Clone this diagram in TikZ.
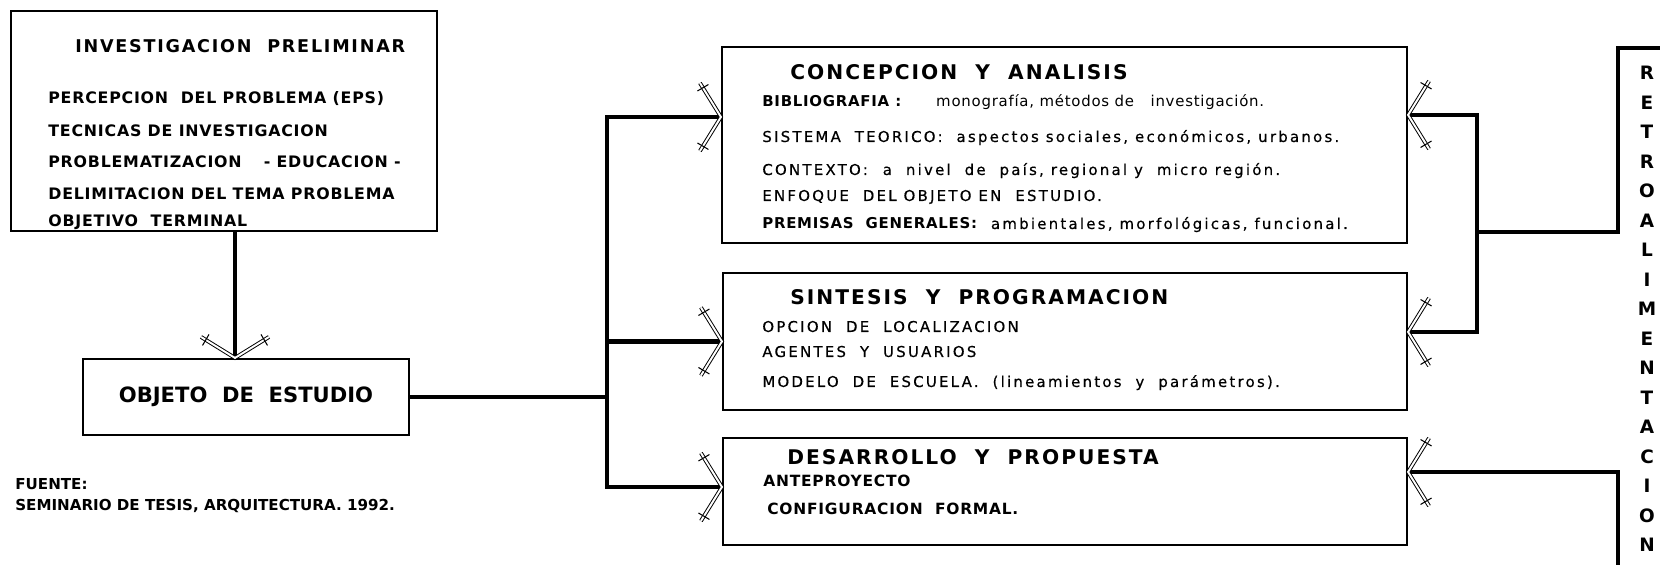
\documentclass[tikz,border=0pt]{standalone}
\usepackage{fontspec}
\setmainfont{DejaVu Sans}
\newfontfamily\rotulo[LetterSpace=10]{DejaVu Sans}
\newfontfamily\cuerpo[LetterSpace=5]{DejaVu Sans}
\newfontfamily\renglon[LetterSpace=15, FakeBold=0.5]{DejaVu Sans}
\usetikzlibrary{positioning, calc, decorations.markings}

\tikzset{
  caja/.style={draw, line width=1.2pt, inner sep=0pt},
  enlace/.style={line width=2.8pt},
  punta/.style={postaction={decorate, decoration={markings, mark=at position 1 with {
    \draw[line width=0.55pt, double, double distance=1.1pt] (-0.42,0.68) -- (0,0) -- (-0.42,-0.68);
    \draw[line width=0.6pt] (-0.47,0.52) -- (-0.25,0.65) (-0.47,-0.52) -- (-0.25,-0.65);
  }}}},
  titulo/.style={anchor=base west, inner sep=0pt, font=\rotulo\bfseries\fontsize{11.5}{13}\selectfont},
  linea/.style={anchor=base west, inner sep=0pt, font=\renglon\fontsize{8.5}{10}\selectfont},
  negra/.style={anchor=base west, inner sep=0pt, font=\bfseries\fontsize{8.6}{10}\selectfont},
  letra/.style={inner sep=0pt, font=\bfseries\fontsize{10.5}{12}\selectfont}
}

\begin{document}
\begin{tikzpicture}
\useasboundingbox (0,0) rectangle (33.2,11.3);

% cajas
\node[caja, minimum width=8.52cm, minimum height=4.4cm] (prelim) at (4.48,8.88) {};
\node[caja, minimum width=6.52cm, minimum height=1.52cm, font=\bfseries\fontsize{12}{14}\selectfont] (objeto) at (4.92,3.36) {OBJETO\ \ DE\ \ ESTUDIO};
\node[caja, minimum width=13.7cm, minimum height=3.92cm] (concep) at (21.29,8.4) {};
\node[caja, minimum width=13.68cm, minimum height=2.74cm] (sintesis) at (21.3,4.47) {};
\node[caja, minimum width=13.68cm, minimum height=2.14cm] (desarrollo) at (21.3,1.47) {};

% investigacion preliminar
\node[titulo, font=\rotulo\bfseries\fontsize{10}{12}\selectfont] (prelimT) at (1.5,10.24) {INVESTIGACION\ \ PRELIMINAR};
\foreach \y/\t [count=\i] in {9.22/{PERCEPCION\ \ DEL PROBLEMA (EPS)}, 8.56/{TECNICAS DE INVESTIGACION},
  7.94/{PROBLEMATIZACION\quad\ - EDUCACION -}, 7.30/{DELIMITACION DEL TEMA PROBLEMA}, 6.76/{OBJETIVO\ \ TERMINAL}}
  \node[linea, font=\cuerpo\bfseries\fontsize{9}{11}\selectfont] (prelim\i) at (0.96,\y) {\t};

% concepcion y analisis
\node[titulo] (concepT) at (15.8,9.70) {CONCEPCION\ \ Y\ \ ANALISIS};
\foreach \y/\t [count=\i] in {9.16/{{\cuerpo\bfseries BIBLIOGRAFIA :\hspace{0.7cm}\mdseries monografía, métodos de\ \ \ investigación.}},
  8.46/{SISTEMA\ \ TEORICO:\ \ aspectos sociales, económicos, urbanos.},
  7.80/{CONTEXTO:\hspace{0.3cm}a\ \ nivel\ \ de\ \ país, regional y\ \ micro región.},
  7.28/{ENFOQUE\ \ DEL OBJETO EN\ \ ESTUDIO.},
  6.72/{{\cuerpo\bfseries PREMISAS\ \ GENERALES:}\ \ ambientales, morfológicas, funcional.}}
  \node[linea] (concep\i) at (15.24,\y) {\t};

% sintesis y programacion
\node[titulo] (sintesisT) at (15.8,5.20) {SINTESIS\ \ Y\ \ PROGRAMACION};
\foreach \y/\t [count=\i] in {4.66/{OPCION\ \ DE\ \ LOCALIZACION}, 4.16/{AGENTES\ \ Y\ \ USUARIOS},
  3.56/{MODELO\ \ DE\ \ ESCUELA.\ \ (lineamientos\ \ y\ \ parámetros).}}
  \node[linea] (sintesis\i) at (15.24,\y) {\t};

% desarrollo y propuesta
\node[titulo] (desarrolloT) at (15.74,2.0) {DESARROLLO\ \ Y\ \ PROPUESTA};
\node[linea, font=\cuerpo\bfseries\fontsize{8.8}{10}\selectfont] (desarrollo1) at (15.26,1.56) {ANTEPROYECTO};
\node[linea, font=\cuerpo\bfseries\fontsize{8.8}{10}\selectfont] (desarrollo2) at (15.34,1.0) {CONFIGURACION\ \ FORMAL.};

% fuente
\node[negra] (fuente) at (0.3,1.5) {FUENTE:};
\node[negra] (seminario) at (0.3,1.08) {SEMINARIO DE TESIS, ARQUITECTURA. 1992.};

% retroalimentacion
\foreach \c [count=\i] in {R,E,T,R,O,A,L,I,M,E,N,T,A,C,I,O,N}
  \node[letra] (retro\i) at (32.94,{10.43-0.59*\i}) {\c};

% conexiones
\coordinate (bajada) at (4.7,0);
\coordinate (troncoA) at (12.14,8.96);
\coordinate (troncoB) at (12.14,1.56);
\coordinate (vueltaA) at (29.54,9.0);
\coordinate (vueltaB) at (29.54,4.66);
\coordinate (retroM) at (29.54,6.66);
\coordinate (retroA) at (32.36,10.34);
\coordinate (retroD) at (33.4,10.34);
\coordinate (retroB) at (32.36,-0.1);
\coordinate (retroC) at (32.36,1.86);

\draw[enlace, punta] (prelim.south -| bajada) -- (objeto.north -| bajada);
\draw[enlace] (objeto) -- (troncoA |- objeto);
\draw[enlace, punta] (troncoA |- objeto) -- (troncoA) -- (troncoA -| concep.west);
\draw[enlace, punta] (troncoA |- objeto) -- (troncoB) -- (troncoB -| desarrollo.west);
\draw[enlace, punta] (troncoA |- sintesis.west) -- (sintesis.west);

\draw[enlace, punta] (retroM) -- (vueltaA) -- (vueltaA -| concep.east);
\draw[enlace, punta] (retroM) -- (vueltaB) -- (vueltaB -| sintesis.east);
\draw[enlace] (retroM) -| (retroA) -- (retroD);
\draw[enlace, punta] (retroB) -- (retroC) -- (retroC -| desarrollo.east);
\end{tikzpicture}
\end{document}
